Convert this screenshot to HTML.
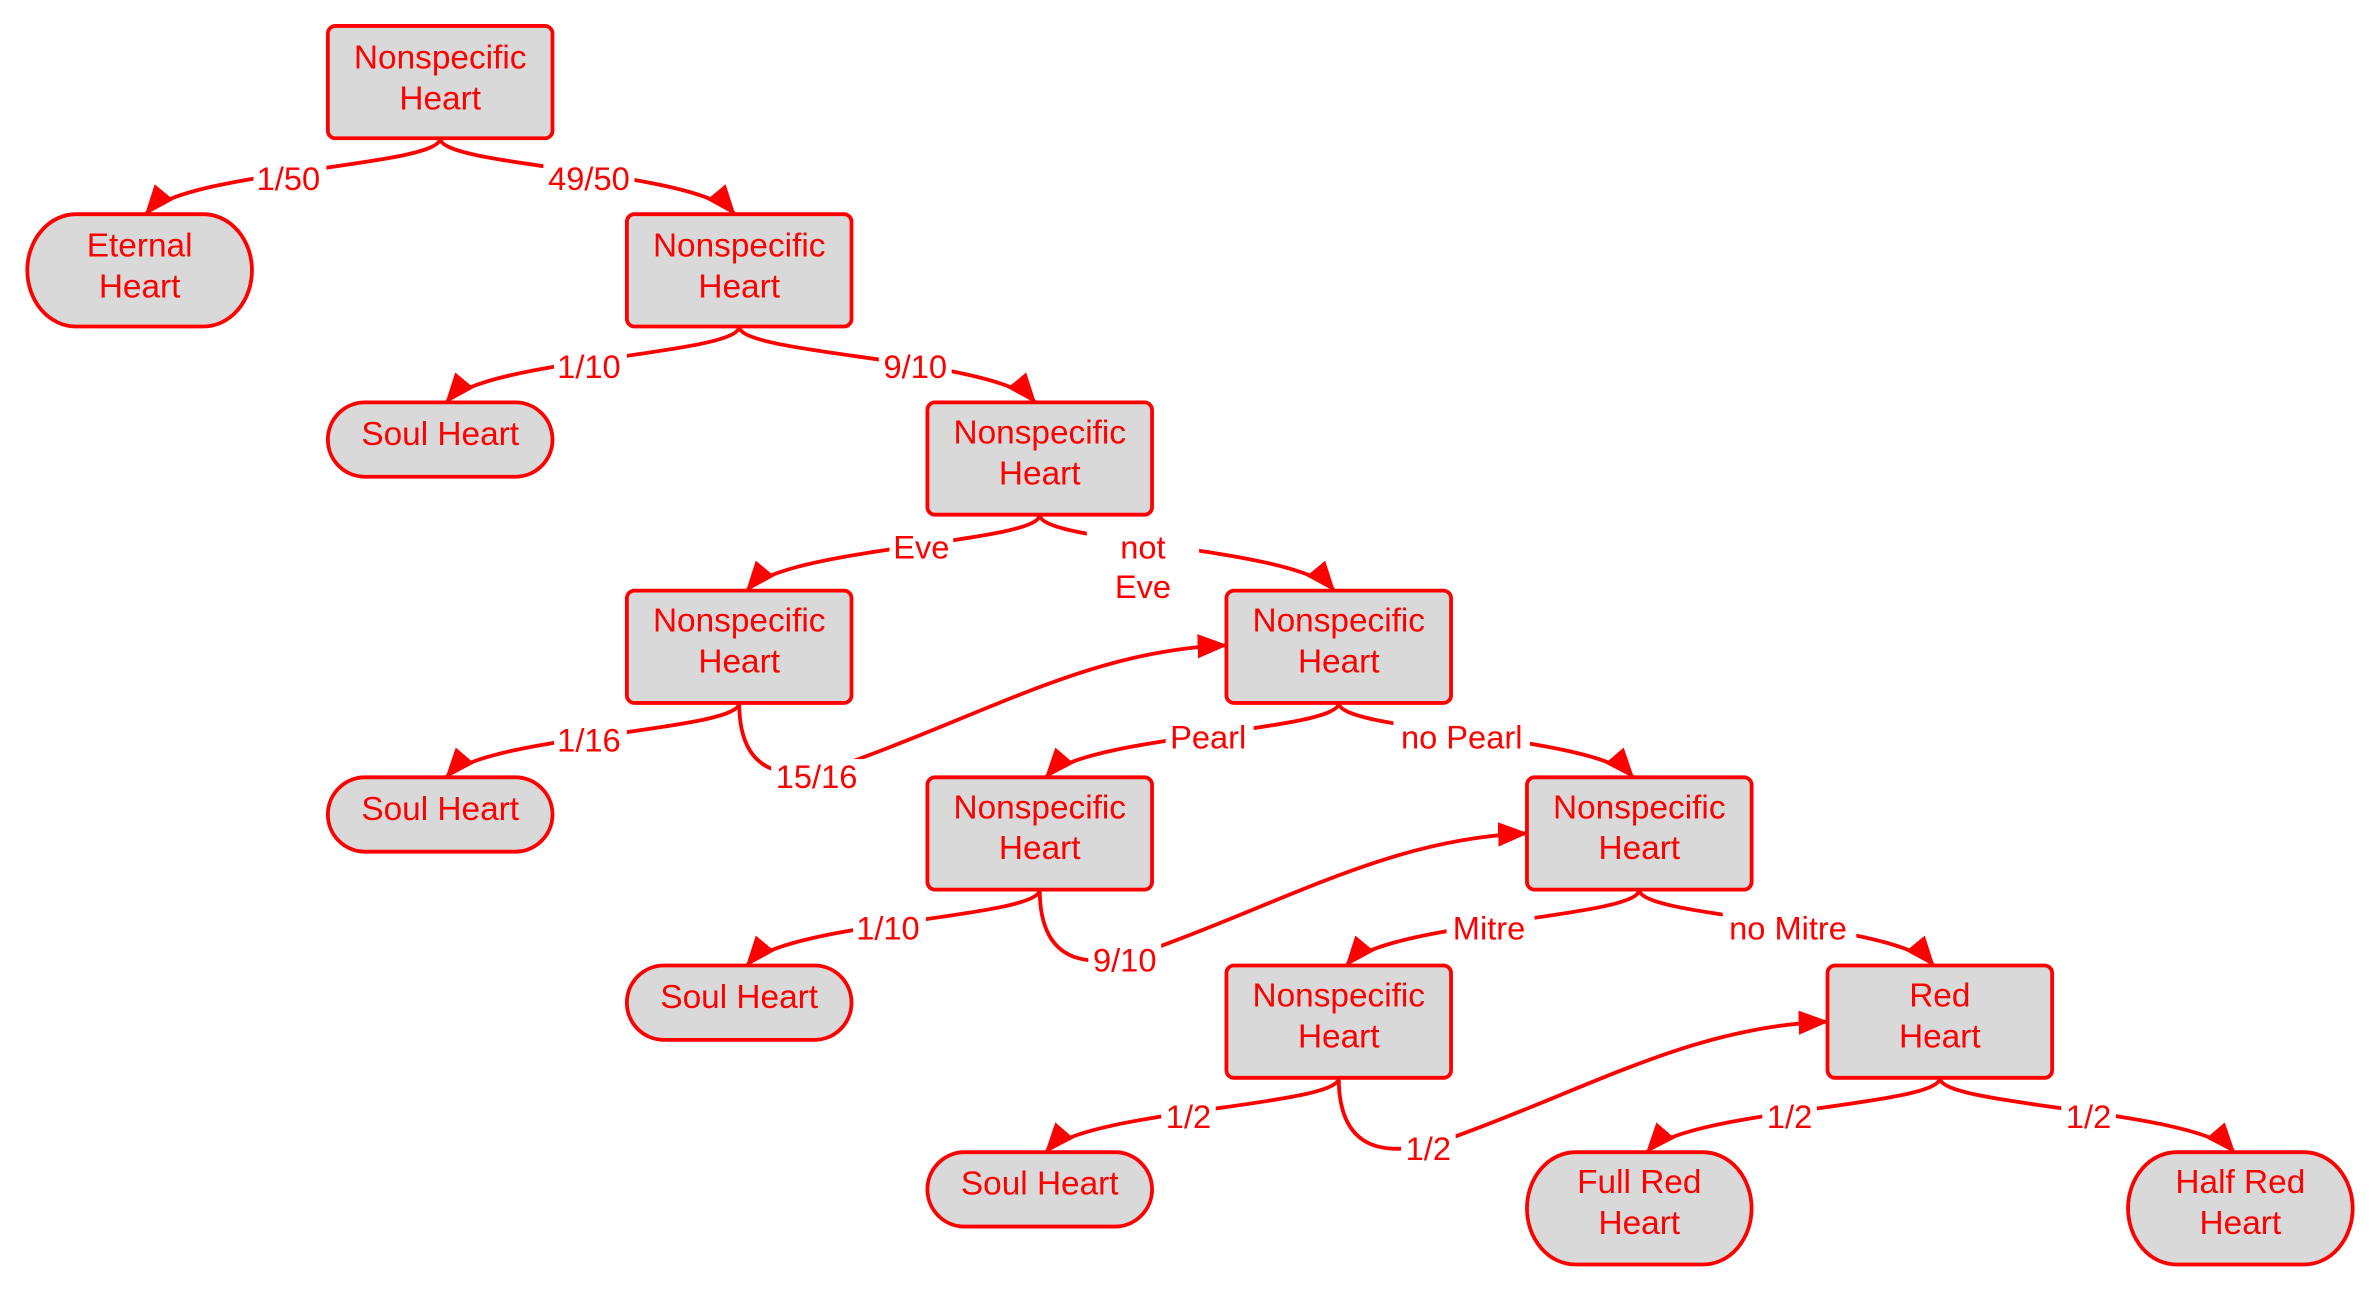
<!DOCTYPE html>
<html><head><meta charset="utf-8"><style>
html,body{margin:0;padding:0;background:#fff;}
svg{display:block;}
text{font-family:"Liberation Sans",sans-serif;fill:#f00;text-anchor:middle;}
.n{fill:#d9d9d9;stroke:#f00;stroke-width:2.5;}
.e{fill:none;stroke:#f00;stroke-width:2.5;}
.nt{font-size:22px;}
.lb{font-size:21.5px;}
</style></head><body>
<svg width="2380" height="1292" viewBox="0 0 1568 851" xmlns="http://www.w3.org/2000/svg">
<defs>
<marker id="b" markerWidth="20" markerHeight="16" refX="19" refY="8" orient="auto" markerUnits="userSpaceOnUse"><path d="M0,0 L20,8 L0,16 z" fill="#f00"/></marker></defs>

<g class="e">
<path d="M290,91 C290,110 120,112 96,141" marker-end="url(#b)"/>
<path d="M290,91 C290,110 460,112 484,141" marker-end="url(#b)"/>
<path d="M487,215 C487,234 318,236 294,265" marker-end="url(#b)"/>
<path d="M487,215 C487,234 658,236 682,265" marker-end="url(#b)"/>
<path d="M685,339 C685,358 516,360 492,389" marker-end="url(#b)"/>
<path d="M685,339 C685,358 855,360 879,389" marker-end="url(#b)"/>
<path d="M487,463 C487,482 318,484 294,512" marker-end="url(#b)"/>
<path d="M487,463 C487,520 530,512 560,502 C650,470 720,428 808,425" marker-end="url(#b)"/>
<path d="M882,463 C882,482 713,484 689,512" marker-end="url(#b)"/>
<path d="M882,463 C882,482 1052,484 1076,512" marker-end="url(#b)"/>
<path d="M685,586 C685,605 516,607 492,636" marker-end="url(#b)"/>
<path d="M685,586 C685,643 728,636 757,626 C847,594 917,552 1006,549" marker-end="url(#b)"/>
<path d="M1080,586 C1080,605 911,607 887,636" marker-end="url(#b)"/>
<path d="M1080,586 C1080,605 1250,607 1274,636" marker-end="url(#b)"/>
<path d="M882,710 C882,729 713,731 689,759" marker-end="url(#b)"/>
<path d="M882,710 C882,767 925,760 955,750 C1045,718 1115,676 1204,673" marker-end="url(#b)"/>
<path d="M1278,710 C1278,729 1109,731 1085,759" marker-end="url(#b)"/>
<path d="M1278,710 C1278,729 1448,731 1472,759" marker-end="url(#b)"/>
</g>

<g class="lb">
<rect x="167" y="106" width="48" height="22" fill="#fff"/><text x="190" y="125">1/50</text>
<rect x="358" y="106" width="60" height="22" fill="#fff"/><text x="388" y="125">49/50</text>
<rect x="365" y="230" width="48" height="22" fill="#fff"/><text x="388" y="249">1/10</text>
<rect x="579" y="230" width="48" height="22" fill="#fff"/><text x="603" y="249">9/10</text>
<rect x="586" y="349" width="42" height="22" fill="#fff"/><text x="607" y="368">Eve</text>
<rect x="716" y="346" width="74" height="52" fill="#fff"/><text x="753" y="368">not</text><text x="753" y="394">Eve</text>
<rect x="365" y="476" width="48" height="22" fill="#fff"/><text x="388" y="495">1/16</text>
<rect x="508" y="500" width="62" height="22" fill="#fff"/><text x="538" y="519">15/16</text>
<rect x="768" y="474" width="58" height="22" fill="#fff"/><text x="796" y="493">Pearl</text>
<rect x="918" y="474" width="90" height="22" fill="#fff"/><text x="963" y="493">no Pearl</text>
<rect x="562" y="600" width="48" height="22" fill="#fff"/><text x="585" y="619">1/10</text>
<rect x="717" y="621" width="48" height="22" fill="#fff"/><text x="741" y="640">9/10</text>
<rect x="953" y="600" width="58" height="22" fill="#fff"/><text x="981" y="619">Mitre</text>
<rect x="1135" y="600" width="88" height="22" fill="#fff"/><text x="1178" y="619">no Mitre</text>
<rect x="765" y="724" width="36" height="22" fill="#fff"/><text x="783" y="743">1/2</text>
<rect x="923" y="745" width="36" height="22" fill="#fff"/><text x="941" y="764">1/2</text>
<rect x="1161" y="724" width="36" height="22" fill="#fff"/><text x="1179" y="743">1/2</text>
<rect x="1358" y="724" width="36" height="22" fill="#fff"/><text x="1376" y="743">1/2</text>
</g>

<g class="nt">
<rect class="n" x="216" y="17" width="148" height="74" rx="5"/><text x="290" y="45">Nonspecific</text><text x="290" y="72">Heart</text>
<rect class="n" x="18" y="141" width="148" height="74" rx="32" ry="37"/><text x="92" y="169">Eternal</text><text x="92" y="196">Heart</text>
<rect class="n" x="413" y="141" width="148" height="74" rx="5"/><text x="487" y="169">Nonspecific</text><text x="487" y="196">Heart</text>
<rect class="n" x="216" y="265" width="148" height="49" rx="24.5"/><text x="290" y="293">Soul Heart</text>
<rect class="n" x="611" y="265" width="148" height="74" rx="5"/><text x="685" y="292">Nonspecific</text><text x="685" y="319">Heart</text>
<rect class="n" x="413" y="389" width="148" height="74" rx="5"/><text x="487" y="416">Nonspecific</text><text x="487" y="443">Heart</text>
<rect class="n" x="808" y="389" width="148" height="74" rx="5"/><text x="882" y="416">Nonspecific</text><text x="882" y="443">Heart</text>
<rect class="n" x="216" y="512" width="148" height="49" rx="24.5"/><text x="290" y="540">Soul Heart</text>
<rect class="n" x="611" y="512" width="148" height="74" rx="5"/><text x="685" y="539">Nonspecific</text><text x="685" y="566">Heart</text>
<rect class="n" x="1006" y="512" width="148" height="74" rx="5"/><text x="1080" y="539">Nonspecific</text><text x="1080" y="566">Heart</text>
<rect class="n" x="413" y="636" width="148" height="49" rx="24.5"/><text x="487" y="664">Soul Heart</text>
<rect class="n" x="808" y="636" width="148" height="74" rx="5"/><text x="882" y="663">Nonspecific</text><text x="882" y="690">Heart</text>
<rect class="n" x="1204" y="636" width="148" height="74" rx="5"/><text x="1278" y="663">Red</text><text x="1278" y="690">Heart</text>
<rect class="n" x="611" y="759" width="148" height="49" rx="24.5"/><text x="685" y="787">Soul Heart</text>
<rect class="n" x="1006" y="759" width="148" height="74" rx="32" ry="37"/><text x="1080" y="786">Full Red</text><text x="1080" y="813">Heart</text>
<rect class="n" x="1402" y="759" width="148" height="74" rx="32" ry="37"/><text x="1476" y="786">Half Red</text><text x="1476" y="813">Heart</text>
</g>
</svg>
</body></html>
